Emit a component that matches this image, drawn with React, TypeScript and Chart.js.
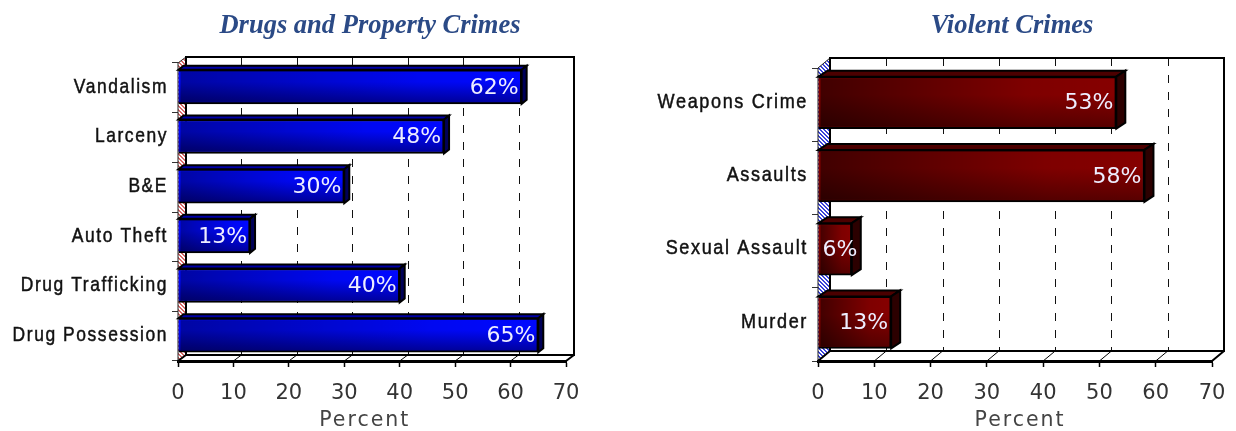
import React, { useEffect, useRef } from "react";
import { Chart, registerables } from "chart.js";

Chart.register(...registerables);

const propertyCategories = ["Vandalism", "Larceny", "B&E", "Auto Theft", "Drug Trafficking", "Drug Possession"];
const propertyValues = [62, 48, 30, 13, 40, 65];
const violentCategories = ["Weapons Crime", "Assaults", "Sexual Assault", "Murder"];
const violentValues = [53, 58, 6, 13];
const xTitle = "Percent";
const propertyTitle = "Drugs and Property Crimes";
const violentTitle = "Violent Crimes";

type Cfg = {
  title: string; labels: string[]; values: number[];
  left: number; padR: number; yWidth: number; top: number;
  wallDx: number; wallDy: number; barDx: number; barDy: number; thick: number; shift: number;
  bright: string; dim: string; topFace: string; sideFace: string; shade: number;
  hatchA: string; labelFont: string; titleShift: number; axisTitleAt: number; tickLabelShift: number; squeeze: number;
};

const leftCfg: Cfg = {
  title: propertyTitle, labels: propertyCategories, values: propertyValues,
  left: 0, padR: 52, yWidth: 178, top: 63,
  wallDx: 8, wallDy: 6, barDx: 5, barDy: 4, thick: 34, shift: 1,
  bright: "#0008ff", dim: "#00009a", topFace: "#0000a8", sideFace: "#000058", shade: 0.36,
  hatchA: "#d86a6a", labelFont: "22px 'DejaVu Sans'", titleShift: 87, axisTitleAt: 33.7, tickLabelShift: 1, squeeze: 0.83,
};
const rightCfg: Cfg = {
  title: violentTitle, labels: violentCategories, values: violentValues,
  left: 618, padR: 24, yWidth: 200, top: 68,
  wallDx: 12, wallDy: 10, barDx: 9, barDy: 6, thick: 52, shift: 2,
  bright: "#860000", dim: "#560000", topFace: "#4c0000", sideFace: "#2c0000", shade: 0.52,
  hatchA: "#3a44d8", labelFont: "22px 'DejaVu Sans'", titleShift: 97, axisTitleAt: 35.9, tickLabelShift: 2.5, squeeze: 0.86,
};

function makeHatch(ctx: CanvasRenderingContext2D, color: string) {
  const c = document.createElement("canvas");
  c.width = 4; c.height = 4;
  const g = c.getContext("2d")!;
  g.fillStyle = "#ffffff";
  g.fillRect(0, 0, 4, 4);
  g.fillStyle = color;
  [[0, 0], [1, 1], [2, 2], [3, 3], [1, 0], [2, 1], [3, 2], [0, 3]].forEach(([x, y]) => g.fillRect(x, y, 1, 1));
  return ctx.createPattern(c, "repeat")!;
}

function makeWalls(cfg: Cfg) {
  return {
    id: "walls3d",
    afterLayout(chart: any) {
      if (chart.titleBlock) {
        chart.titleBlock.left += cfg.titleShift;
        chart.titleBlock.right += cfg.titleShift;
      }
      const y = chart.scales.y;
      if (!y.__spaced) {
        const orig = y.drawLabels.bind(y);
        y._computeLabelArea = () => undefined;
        y.drawLabels = (area: any) => {
          const ctx = chart.ctx;
          const rx = y.right - 10;
          ctx.save();
          ctx.letterSpacing = "1.9px";
          ctx.translate(rx, -cfg.tickLabelShift);
          ctx.scale(cfg.squeeze, 1);
          ctx.translate(-rx, 0);
          orig(area);
          ctx.restore();
        };
        y.__spaced = true;
      }
    },
    afterDatasetsUpdate(chart: any) {
      chart.getDatasetMeta(0).data.forEach((el: any) => { el.y -= cfg.shift; });
    },
    beforeDatasetsDraw(chart: any) {
      const { ctx, chartArea: a, scales } = chart;
      const dx = cfg.wallDx, dy = cfg.wallDy;
      const bx = a.right + dx, by = a.bottom - dy, tx = a.left + dx, ty = a.top - dy;
      ctx.save();
      // left wall
      ctx.beginPath();
      ctx.moveTo(a.left, a.top); ctx.lineTo(tx, ty); ctx.lineTo(tx, by); ctx.lineTo(a.left, a.bottom); ctx.closePath();
      ctx.fillStyle = makeHatch(ctx, cfg.hatchA);
      ctx.fill();
      ctx.strokeStyle = "#222"; ctx.lineWidth = 1; ctx.stroke();
      // back wall dashes
      ctx.strokeStyle = "#111"; ctx.lineWidth = 1; ctx.setLineDash([8, 9]);
      scales.x.ticks.forEach((t: any) => {
        if (t.value === 0 || t.value === 70) return;
        const x = Math.round(scales.x.getPixelForValue(t.value) + dx) + 0.5;
        ctx.beginPath(); ctx.moveTo(x, ty); ctx.lineTo(x, by); ctx.stroke();
      });
      ctx.setLineDash([]);
      // back wall outline
      ctx.strokeStyle = "#000"; ctx.lineWidth = 2;
      ctx.beginPath();
      ctx.moveTo(tx, by); ctx.lineTo(tx, ty); ctx.lineTo(bx, ty); ctx.lineTo(bx, by); ctx.lineTo(tx, by);
      ctx.stroke();
      // floor
      ctx.beginPath();
      ctx.moveTo(a.left, a.bottom); ctx.lineTo(tx, by);
      ctx.moveTo(a.right, a.bottom); ctx.lineTo(bx, by);
      ctx.stroke();
      ctx.lineWidth = 1;
      scales.x.ticks.forEach((t: any) => {
        if (t.value === 0 || t.value === 70) return;
        const x = scales.x.getPixelForValue(t.value);
        ctx.beginPath(); ctx.moveTo(x, a.bottom); ctx.lineTo(x + dx, by); ctx.stroke();
      });
      // bar top and side faces
      chart.getDatasetMeta(0).data.forEach((el: any) => {
        const h = el.height, t = el.y - h / 2, b = el.y + h / 2, x0 = el.base, x1 = el.x;
        ctx.lineWidth = 2; ctx.strokeStyle = "#000"; ctx.lineJoin = "miter";
        ctx.fillStyle = cfg.topFace;
        ctx.beginPath();
        ctx.moveTo(x0, t); ctx.lineTo(x0 + cfg.barDx, t - cfg.barDy); ctx.lineTo(x1 + cfg.barDx, t - cfg.barDy); ctx.lineTo(x1, t); ctx.closePath();
        ctx.fill(); ctx.stroke();
        ctx.fillStyle = cfg.sideFace;
        ctx.beginPath();
        ctx.moveTo(x1, t); ctx.lineTo(x1 + cfg.barDx, t - cfg.barDy); ctx.lineTo(x1 + cfg.barDx, b - cfg.barDy); ctx.lineTo(x1, b); ctx.closePath();
        ctx.fill(); ctx.stroke();
      });
      ctx.restore();
    },
    afterDatasetsDraw(chart: any) {
      const { ctx } = chart;
      ctx.save();
      chart.getDatasetMeta(0).data.forEach((el: any, i: number) => {
        const h = el.height, t = el.y - h / 2, x0 = el.base, w = el.x - el.base;
        const g = ctx.createLinearGradient(x0, 0, x0 + w, 0);
        g.addColorStop(0, `rgba(0,0,0,${cfg.shade})`);
        g.addColorStop(0.7, "rgba(0,0,0,0.06)");
        g.addColorStop(1, "rgba(0,0,0,0)");
        ctx.fillStyle = g;
        ctx.fillRect(x0 + 2, t + 2, w - 4, h - 4);
        ctx.font = cfg.labelFont;
        ctx.fillStyle = "#eeeeff";
        ctx.textBaseline = "middle";
        const text = cfg.values[i] + "%";
        const tw = ctx.measureText(text).width;
        ctx.textAlign = "left";
        ctx.fillText(text, Math.max(el.x - 3 - tw, x0 + 4), el.y + 1);
      });
      // axis title
      ctx.font = "20.5px 'DejaVu Sans'";
      (ctx as any).letterSpacing = "2px";
      ctx.fillStyle = "#444";
      ctx.textAlign = "center";
      ctx.textBaseline = "middle";
      ctx.fillText(xTitle, chart.scales.x.getPixelForValue(cfg.axisTitleAt), 421);
      ctx.restore();
    },
  };
}

function Panel({ cfg }: { cfg: Cfg }) {
  const ref = useRef<HTMLCanvasElement>(null);
  useEffect(() => {
    const chart = new Chart(ref.current!, {
      type: "bar",
      data: {
        labels: cfg.labels,
        datasets: [{
          data: cfg.values,
          barThickness: cfg.thick,
          borderColor: "#000",
          borderWidth: 2,
          backgroundColor: (c: any) => {
            const yScale = c.chart.scales.y;
            const y = yScale ? yScale.getPixelForValue(c.dataIndex) : NaN;
            if (!Number.isFinite(y)) return cfg.bright;
            const g = c.chart.ctx.createLinearGradient(0, y - cfg.thick / 2 - cfg.shift, 0, y + cfg.thick / 2 - cfg.shift);
            g.addColorStop(0, cfg.bright);
            g.addColorStop(0.35, cfg.bright);
            g.addColorStop(1, cfg.dim);
            return g;
          },
        }],
      },
      options: {
        indexAxis: "y",
        responsive: false,
        animation: false,
        layout: { padding: { left: 0, right: cfg.padR, top: 0, bottom: 0 } },
        plugins: {
          legend: { display: false },
          tooltip: { enabled: false },
          title: {
            display: true,
            text: cfg.title,
            color: "#2b4a86",
            font: { family: "'Liberation Serif'", size: 26.5, weight: "bold", style: "italic" },
            padding: { top: 10, bottom: cfg.top - 10 - 31.8 },
          },
        },
        scales: {
          x: {
            min: 0, max: 70,
            afterFit: (s: any) => { s.height = 70; s.paddingRight = 0; s.paddingLeft = 0; },
            grid: { drawOnChartArea: false, color: "#000", tickLength: 6, tickWidth: 1.5 },
            border: { color: "#000", width: 3 },
            ticks: {
              stepSize: 10, autoSkip: false, maxRotation: 0, padding: 14,
              color: "#333", font: { family: "'DejaVu Sans'", size: 21 },
            },
          },
          y: {
            afterFit: (s: any) => { s.width = cfg.yWidth; },
            grid: { drawOnChartArea: false, color: "#333", tickLength: 6, offset: true },
            border: { color: "#222", width: 1 },
            ticks: {
              autoSkip: false, padding: 4,
              color: "#111",
              textStrokeColor: "#111", textStrokeWidth: 0.5,
              font: { family: "'Liberation Sans'", size: 21 },
            },
          },
        },
      } as any,
      plugins: [makeWalls(cfg)],
    });
    return () => chart.destroy();
  }, [cfg]);
  return (
    <canvas
      ref={ref}
      width={618}
      height={431}
      style={{ position: "absolute", left: cfg.left, top: 0, width: 618, height: 431, display: "block" }}
    />
  );
}

export default function App() {
  return (
    <div style={{ position: "absolute", left: 0, top: 0, width: 1236, height: 431, background: "#fff", overflow: "hidden" }}>
      <Panel cfg={leftCfg} />
      <Panel cfg={rightCfg} />
    </div>
  );
}
